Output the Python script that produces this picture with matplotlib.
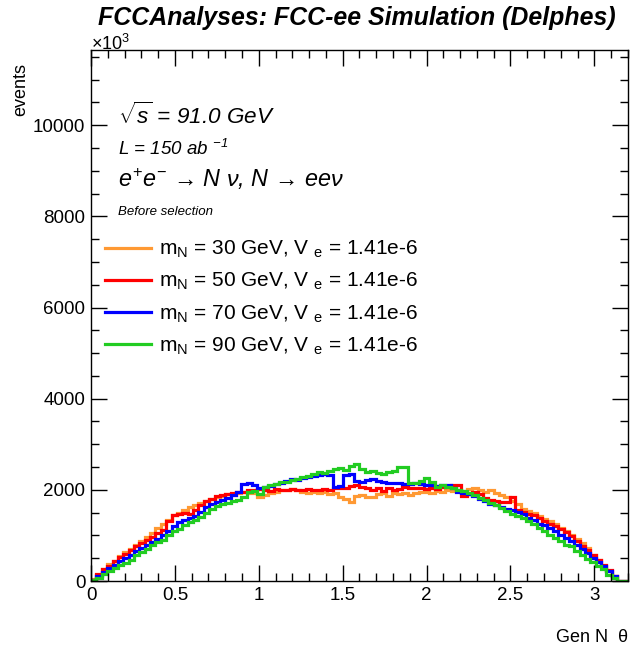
import numpy as np
import matplotlib

matplotlib.use("Agg")
import matplotlib.pyplot as plt
from matplotlib.ticker import MultipleLocator

plt.rcParams["font.family"] = ["Liberation Sans", "DejaVu Sans"]
plt.rcParams["mathtext.fontset"] = "custom"
plt.rcParams["mathtext.rm"] = "Liberation Sans"
plt.rcParams["mathtext.it"] = "Liberation Sans:italic"
plt.rcParams["mathtext.bf"] = "Liberation Sans:bold"

# binning of the generated N polar angle
theta_lo, theta_hi, n_bins = 0.0, 3.2, 100

# events per bin, one list per signal point
m30 = [40, 140, 260, 370, 430, 540, 630, 700, 790, 870,
       960, 1050, 1160, 1240, 1330, 1440, 1500, 1560, 1620, 1660,
       1720, 1760, 1800, 1850, 1870, 1900, 1890, 1930, 1960, 1940,
       1920, 1850, 1880, 1930, 1960, 1990, 2000, 2010, 1990, 1960,
       1930, 1960, 1920, 1950, 1900, 1930, 1850, 1800, 1740, 1860,
       1890, 1840, 1850, 1900, 1930, 1870, 1920, 1900, 1940, 1890,
       1920, 1950, 1960, 1940, 1980, 1960, 1990, 1970, 2000, 1980,
       2020, 2040, 1990, 1950, 1990, 1920, 1880, 1840, 1760, 1680,
       1580, 1540, 1500, 1430, 1360, 1320, 1240, 1160, 1100, 1010,
       920, 830, 720, 560, 460, 340, 210, 100, 0, 0]
m50 = [30, 150, 260, 340, 430, 520, 600, 680, 760, 830,
       900, 970, 1060, 1120, 1320, 1450, 1480, 1500, 1480, 1560,
       1660, 1760, 1810, 1870, 1890, 1910, 1930, 1950, 1960, 1990,
       2000, 2010, 1990, 1980, 2010, 2000, 1990, 2010, 2000, 1990,
       2010, 2000, 1990, 2020, 2000, 2030, 2040, 2050, 2080, 2100,
       2060, 2030, 2000, 2050, 1980, 2040, 2000, 2020, 2060, 2040,
       2030, 2050, 2020, 2040, 2010, 2060, 2090, 2110, 2100, 1860,
       1900, 1960, 1900, 1830, 1780, 1760, 1740, 1730, 1850, 1560,
       1520, 1480, 1450, 1380, 1320, 1260, 1200, 1150, 1080, 990,
       880, 760, 690, 560, 470, 350, 240, 110, 0, 0]
m70 = [30, 110, 200, 280, 360, 430, 510, 580, 650, 720,
       790, 860, 930, 1000, 1100, 1200, 1300, 1340, 1380, 1420,
       1510, 1620, 1690, 1730, 1780, 1820, 1880, 1960, 2120, 2150,
       2100, 2040, 2060, 2080, 2120, 2160, 2200, 2240, 2220, 2260,
       2280, 2300, 2320, 2340, 2330, 2070, 2080, 2330, 2340, 2200,
       2180, 2220, 2230, 2200, 2180, 2160, 2150, 2140, 2130, 2120,
       2150, 2130, 2110, 2100, 2090, 2110, 2100, 2030, 1960, 1930,
       1900, 1860, 1800, 1760, 1700, 1660, 1620, 1580, 1560, 1520,
       1460, 1390, 1330, 1260, 1220, 1160, 1090, 1020, 950, 880,
       790, 700, 620, 510, 420, 320, 210, 100, 0, 0]
m90 = [20, 70, 150, 230, 290, 350, 400, 470, 560, 630,
       700, 780, 860, 900, 1020, 1100, 1140, 1220, 1300, 1340,
       1400, 1500, 1590, 1640, 1700, 1710, 1760, 1780, 1850, 1950,
       1980, 1900, 2060, 2110, 2120, 2180, 2170, 2220, 2240, 2280,
       2300, 2350, 2400, 2380, 2420, 2460, 2480, 2440, 2520, 2560,
       2450, 2400, 2420, 2380, 2350, 2400, 2420, 2500, 2500, 2150,
       2160, 2200, 2250, 2180, 2070, 2100, 2060, 2050, 2000, 1980,
       1940, 1880, 1820, 1780, 1720, 1660, 1600, 1540, 1470, 1420,
       1390, 1320, 1250, 1170, 1100, 1000, 950, 880, 800, 760,
       650, 560, 480, 420, 330, 260, 140, 60, 0, 0]

masses = [30, 50, 70, 90]
colours = ["#ff9933", "#ff0000", "#0000ff", "#22cc22"]


def main():
    fig = plt.figure(figsize=(6.33, 6.46), dpi=100)
    ax = fig.add_axes([0.1438, 0.1006, 0.8482, 0.822])

    edges = np.linspace(theta_lo, theta_hi, n_bins + 1)
    for m, vals, col in zip(masses, [m30, m50, m70, m90], colours):
        ax.stairs(vals, edges, color=col, lw=2.3,
                  label=rf"m$_{{\mathregular{{N}}}}$ = {m} GeV, V $_{{\mathregular{{e}}}}$ = 1.41e-6")

    ax.set_xlim(theta_lo, theta_hi)
    ax.set_ylim(0, 11650)

    # ROOT-like ticks on all four sides
    ax.xaxis.set_major_locator(MultipleLocator(0.5))
    ax.xaxis.set_minor_locator(MultipleLocator(0.1))
    ax.yaxis.set_major_locator(MultipleLocator(2000))
    ax.yaxis.set_minor_locator(MultipleLocator(500))
    ax.tick_params(which="both", direction="in", top=True, right=True,
                   labelsize=13.5, width=1.0, pad=4)
    ax.tick_params(which="major", length=11.5)
    ax.tick_params(which="minor", length=6)
    ax.xaxis.set_major_formatter(lambda v, p: f"{v:g}")
    for s in ax.spines.values():
        s.set_linewidth(1.0)

    fig.text(0.144, 0.916, r"$\times$10$^{\mathregular{3}}$", fontsize=13,
             ha="left", va="bottom")
    fig.text(0.032, 0.861, "events", fontsize=13, rotation=90,
             ha="center", va="center")
    ax.set_xlabel("Gen N  θ", fontsize=13, loc="right", labelpad=18)

    fig.text(0.563, 0.972, "FCCAnalyses: FCC-ee Simulation (Delphes)",
             fontsize=17.9, fontweight="bold", style="italic",
             ha="center", va="center")

    ax.text(0.05, 0.861, r"$\sqrt{s}$ = 91.0 GeV", transform=ax.transAxes,
            fontsize=16.2, style="italic", va="baseline")
    ax.text(0.05, 0.802, r"L = 150 ab $^{\mathregular{-1}}$", transform=ax.transAxes,
            fontsize=13.5, style="italic", va="baseline")
    ax.text(0.05, 0.742, r"$e^{+}e^{-}$ → N ν, N → eeν",
            transform=ax.transAxes, fontsize=16.8, style="italic", va="baseline")
    ax.text(0.05, 0.689, "Before selection", transform=ax.transAxes,
            fontsize=9.5, style="italic", va="baseline")

    ax.legend(loc="upper left", bbox_to_anchor=(0.026, 0.644), frameon=False,
              fontsize=15, handlelength=2.2, handletextpad=0.4,
              labelspacing=0.52, borderpad=0, borderaxespad=0)

    fig.savefig("out.png", dpi=100)
    plt.close(fig)


if __name__ == "__main__":
    main()
